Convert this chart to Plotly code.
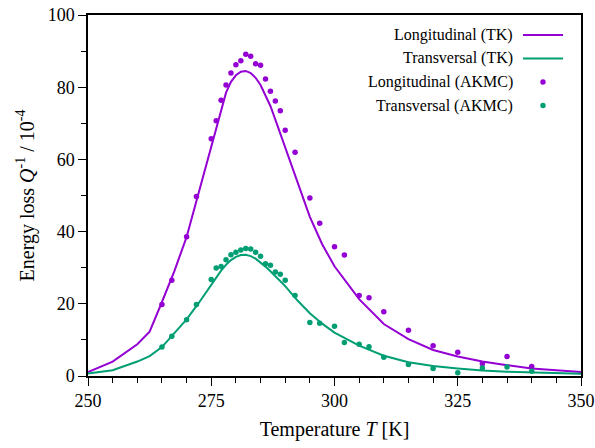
import plotly.graph_objects as go

# ---------------- data ----------------
T_tk = [250, 255, 260, 262.5, 265, 267.5, 270, 272.5, 275, 276, 277, 278, 279, 280,
        281, 282, 283, 284, 285, 286, 287, 288, 289, 290, 292.5, 295, 297.5, 300,
        305, 310, 315, 320, 325, 330, 335, 340, 350]
long_tk = [1.1, 4.0, 8.8, 12.3, 20.5, 29.0, 38.5, 51.0, 63.5, 69.0, 74.0, 78.5, 81.5, 83.3,
           84.3, 84.5, 83.9, 82.6, 80.6, 77.9, 74.8, 71.0, 67.2, 63.0, 53.3, 44.1, 36.5, 30.4,
           21.3, 14.4, 10.2, 7.2, 5.4, 4.0, 3.0, 2.1, 1.1]
trans_tk = [0.7, 1.6, 4.0, 5.5, 8.0, 11.9, 15.7, 20.3, 25.3, 27.3, 29.2, 30.8, 32.1, 33.0,
            33.5, 33.6, 33.2, 32.5, 31.5, 30.3, 29.0, 27.7, 26.3, 24.9, 20.9, 17.4, 14.5, 12.0,
            8.4, 5.6, 3.8, 2.8, 2.1, 1.5, 1.2, 1.0, 0.6]

T_akmc = [265, 267, 270, 272, 275, 276, 277, 278, 279, 280, 281, 282, 283, 284, 285,
          286, 287, 288, 289, 290, 292, 295, 297, 300, 302, 305, 307, 310, 315, 320,
          325, 330, 335, 340]
long_akmc = [19.8, 26.5, 38.6, 49.7, 65.7, 70.7, 76.4, 80.6, 83.9, 86.2, 87.3, 89.1, 88.6, 86.5, 86.1,
             82.3, 78.9, 76.2, 73.5, 68.1, 62.0, 49.3, 42.3, 35.8, 33.5, 22.3, 21.7, 17.8, 12.7, 8.4,
             6.6, 3.4, 5.4, 2.6]
trans_akmc = [8.0, 11.0, 15.6, 19.8, 26.7, 29.9, 30.3, 32.2, 33.6, 34.3, 34.9, 35.3, 35.2, 34.3, 33.2,
              31.1, 30.7, 28.8, 28.2, 26.5, 22.3, 14.8, 14.6, 13.8, 9.3, 8.8, 8.1, 5.2, 3.2, 2.1,
              0.9, 2.2, 2.5, 1.3]

legend_names = ["Longitudinal (TK)", "Transversal (TK)", "Longitudinal (AKMC)", "Transversal (AKMC)"]
x_ticks = [250, 275, 300, 325, 350]
y_ticks = [0, 20, 40, 60, 80, 100]

PURPLE = "#9400D3"
GREEN = "#009E73"
FONT = "Liberation Serif"

fig = go.Figure()
fig.add_trace(go.Scatter(x=T_tk, y=long_tk, mode="lines", line=dict(color=PURPLE, width=2),
                         name=legend_names[0], showlegend=False))
fig.add_trace(go.Scatter(x=T_tk, y=trans_tk, mode="lines", line=dict(color=GREEN, width=2),
                         name=legend_names[1], showlegend=False))
fig.add_trace(go.Scatter(x=T_akmc, y=long_akmc, mode="markers", marker=dict(color=PURPLE, size=5.5),
                         name=legend_names[2], showlegend=False))
fig.add_trace(go.Scatter(x=T_akmc, y=trans_akmc, mode="markers", marker=dict(color=GREEN, size=5.5),
                         name=legend_names[3], showlegend=False))

# custom gnuplot-style legend (text right, sample to the right)
rows_px = [35, 58.5, 82, 105.5]
colors = [PURPLE, GREEN, PURPLE, GREEN]
ann = []
shapes = []
for i, (name, ypx, c) in enumerate(zip(legend_names, rows_px, colors)):
    yp = (376 - ypx) / 361
    ann.append(dict(x=(515 - 88) / 493, y=yp, xref="paper", yref="paper", text=name,
                    showarrow=False, xanchor="right", yanchor="middle",
                    font=dict(family=FONT, size=16, color="black")))
    if i < 2:
        shapes.append(dict(type="line", xref="paper", yref="paper",
                           x0=(523 - 88) / 493, x1=(563 - 88) / 493, y0=yp, y1=yp,
                           line=dict(color=c, width=2)))
    else:
        shapes.append(dict(type="circle", xref="paper", yref="paper",
                           xsizemode="pixel", ysizemode="pixel",
                           xanchor=(543 - 88) / 493, yanchor=yp,
                           x0=-2.7, x1=2.7, y0=-2.7, y1=2.7,
                           fillcolor=c, line=dict(color=c, width=0)))

fig.update_layout(
    width=595, height=448,
    margin=dict(l=88, r=14, t=15, b=72),
    paper_bgcolor="white", plot_bgcolor="white",
    font=dict(family=FONT, size=18, color="black"),
    annotations=ann, shapes=shapes,
    showlegend=False,
)
fig.update_xaxes(
    range=[250, 350], tickvals=x_ticks, ticktext=[str(v) for v in x_ticks],
    automargin=False,
    showgrid=False, zeroline=False, showline=True, mirror=True,
    linecolor="black", linewidth=1.5,
    ticks="outside", ticklen=8, tickwidth=1, tickcolor="black",
    minor=dict(dtick=5, tick0=250, ticks="outside", ticklen=5, tickcolor="black", showgrid=False),
    title=dict(text="Temperature <i>T</i> [K]", font=dict(family=FONT, size=20), standoff=12),
    tickfont=dict(family=FONT, size=18),
)
fig.update_yaxes(
    range=[0, 100], tickvals=y_ticks, ticktext=[str(v) for v in y_ticks],
    automargin=False,
    showgrid=False, zeroline=False, showline=True, mirror=True,
    linecolor="black", linewidth=1.5,
    ticks="outside", ticklen=8, tickwidth=1, tickcolor="black",
    minor=dict(dtick=10, tick0=0, ticks="outside", ticklen=5, tickcolor="black", showgrid=False),
    title=dict(text="Energy loss <i>Q</i><sup>-1</sup> / 10<sup>-4</sup>",
               font=dict(family=FONT, size=20), standoff=8),
    tickfont=dict(family=FONT, size=18),
)

fig.write_html("out.html", config={"displayModeBar": False},
               post_script="document.body.style.margin='0px';")
